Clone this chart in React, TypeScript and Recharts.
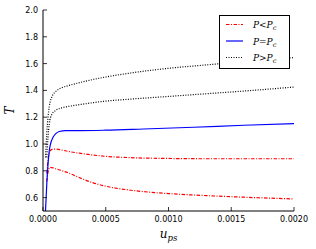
import { Label, Line, LineChart, XAxis, YAxis } from "recharts";

// P < Pc, upper branch
const redA_u = [0.00003, 0.00004, 0.00005, 0.00007, 0.0001, 0.00015, 0.0002, 0.0003, 0.0005, 0.0007, 0.001, 0.0013, 0.0016, 0.002];
const redA_T = [0.78, 0.88, 0.93, 0.96, 0.962, 0.955, 0.945, 0.93, 0.908, 0.898, 0.892, 0.89, 0.89, 0.89];
// P < Pc, lower branch
const redB_u = [0.00003, 0.00004, 0.000055, 0.00008, 0.00012, 0.0002, 0.0003, 0.0004, 0.0005, 0.0007, 0.001, 0.0013, 0.0016, 0.002];
const redB_T = [0.72, 0.79, 0.825, 0.822, 0.81, 0.785, 0.745, 0.71, 0.685, 0.655, 0.63, 0.615, 0.603, 0.59];
// P = Pc
const blue_u = [0.00002, 0.00003, 0.00004, 0.00005, 0.00006, 0.00008, 0.0001, 0.00013, 0.00018, 0.0003, 0.0005, 0.0008, 0.0012, 0.0016, 0.002];
const blue_T = [0.5, 0.7, 0.85, 0.95, 1.0, 1.05, 1.075, 1.093, 1.1, 1.1, 1.103, 1.112, 1.125, 1.14, 1.152];
// P > Pc, upper branch
const blackA_u = [0.00002, 0.00003, 0.00004, 0.00005, 0.00007, 0.0001, 0.00015, 0.0002, 0.0003, 0.0005, 0.0007, 0.001, 0.0013, 0.0016, 0.002];
const blackA_T = [0.9, 1.08, 1.2, 1.28, 1.35, 1.39, 1.42, 1.435, 1.46, 1.5, 1.53, 1.565, 1.59, 1.615, 1.645];
// P > Pc, lower branch
const blackB_u = [0.00003, 0.00004, 0.00005, 0.00007, 0.0001, 0.00015, 0.0002, 0.0003, 0.0005, 0.0007, 0.001, 0.0013, 0.0016, 0.002];
const blackB_T = [0.9, 1.05, 1.15, 1.22, 1.25, 1.27, 1.28, 1.295, 1.32, 1.335, 1.355, 1.375, 1.395, 1.425];

const xTicks = [0, 0.0005, 0.001, 0.0015, 0.002];
const yTicks = [0.6, 0.8, 1.0, 1.2, 1.4, 1.6, 1.8, 2.0];

const toRows = (u: number[], t: number[]) => u.map((x, i) => ({ u: x, T: t[i] }));

const RED = "#ff0000";
const BLUE = "#0000ff";
const DASHDOT = "3.5 1.5 1 1.5";
const DOTTED = "1 1.5";

const tickFont = { fontFamily: "DejaVu Sans", fontSize: 8, fill: "#000" };

const BottomTick = (props: any) => {
  const { x, y, payload } = props;
  return (
    <g>
      <line x1={x} x2={x} y1={y} y2={y - 4} stroke="#000" strokeWidth={0.8} />
      <text x={x} y={y + 11} textAnchor="middle" {...tickFont}>
        {Number(payload.value).toFixed(4)}
      </text>
    </g>
  );
};

const LeftTick = (props: any) => {
  const { x, y, payload } = props;
  return (
    <g>
      <line x1={x} x2={x + 4} y1={y} y2={y} stroke="#000" strokeWidth={0.8} />
      <text x={x - 5} y={y + 3} textAnchor="end" {...tickFont}>
        {Number(payload.value).toFixed(1)}
      </text>
    </g>
  );
};

const TopTick = (props: any) => {
  const { x, y } = props;
  return <line x1={x} x2={x} y1={y} y2={y + 4} stroke="#000" strokeWidth={0.8} />;
};

const RightTick = (props: any) => {
  const { x, y } = props;
  return <line x1={x} x2={x - 4} y1={y} y2={y} stroke="#000" strokeWidth={0.8} />;
};

const legendItems = [
  { color: RED, dash: DASHDOT, rel: "<" },
  { color: BLUE, dash: undefined, rel: "=" },
  { color: "#000", dash: DOTTED, rel: ">" },
];

const LegendBox = () => (
  <svg width={71} height={54} style={{ display: "block" }}>
    <rect x={0.5} y={0.5} width={70} height={53} fill="#fff" stroke="#000" strokeWidth={1} />
    {legendItems.map((it, i) => (
      <g key={i}>
        <line
          x1={7}
          x2={24}
          y1={9.5 + i * 16.5}
          y2={9.5 + i * 16.5}
          stroke={it.color}
          strokeWidth={1.2}
          strokeDasharray={it.dash}
        />
        <text x={34} y={13 + i * 16.5} fontFamily="DejaVu Serif" fontStyle="italic" fontSize={9} fill="#000">
          P{it.rel}P
          <tspan fontSize={6.5} dy={2}>c</tspan>
        </text>
      </g>
    ))}
  </svg>
);

export default function App() {
  return (
    <div style={{ position: "absolute", left: 0, top: 0, width: 316, height: 249, background: "#fff" }}>
      <LineChart width={316} height={249} margin={{ top: 10, right: 22, bottom: 0, left: 0 }}>
        <XAxis
          xAxisId="bottom"
          dataKey="u"
          type="number"
          domain={[0, 0.002]}
          ticks={xTicks}
          allowDataOverflow
          height={38}
          tickSize={0}
          tickMargin={0}
          tickLine={false}
          axisLine={{ stroke: "#000", strokeWidth: 1 }}
          tick={BottomTick}
          interval={0}
        >
          <Label
            content={(p: any) => {
              const vb = p.viewBox;
              return (
                <text x={vb.x + vb.width / 2} y={vb.y + 27} textAnchor="middle" fontFamily="DejaVu Serif" fontStyle="italic" fontSize={12} fill="#000">
                  u<tspan fontSize={8.5} dy={3}>ps</tspan>
                </text>
              );
            }}
          />
        </XAxis>
        <XAxis
          xAxisId="top"
          orientation="top"
          dataKey="u"
          type="number"
          domain={[0, 0.002]}
          ticks={xTicks}
          height={0}
          tickSize={0}
          tickMargin={0}
          tickLine={false}
          axisLine={{ stroke: "#000", strokeWidth: 1 }}
          tick={TopTick}
          interval={0}
        />
        <YAxis
          yAxisId="left"
          type="number"
          domain={[0.5, 2.0]}
          ticks={yTicks}
          allowDataOverflow
          width={43}
          tickSize={0}
          tickMargin={0}
          tickLine={false}
          axisLine={{ stroke: "#000", strokeWidth: 1 }}
          tick={LeftTick}
          interval={0}
        >
          <Label
            content={(p: any) => {
              const vb = p.viewBox;
              const cx = vb.x + 14;
              const cy = vb.y + vb.height / 2;
              return (
                <text x={cx} y={cy} transform={`rotate(-90 ${cx} ${cy})`} textAnchor="middle" fontFamily="DejaVu Serif" fontStyle="italic" fontSize={12} fill="#000">
                  T
                </text>
              );
            }}
          />
        </YAxis>
        <YAxis
          yAxisId="right"
          orientation="right"
          type="number"
          domain={[0.5, 2.0]}
          ticks={yTicks}
          width={0}
          tickSize={0}
          tickMargin={0}
          tickLine={false}
          axisLine={{ stroke: "#000", strokeWidth: 1 }}
          tick={RightTick}
          interval={0}
        />
        <Line xAxisId="bottom" yAxisId="left" data={toRows(redA_u, redA_T)} dataKey="T" type="monotone" stroke={RED} strokeWidth={1.2} strokeDasharray={DASHDOT} dot={false} isAnimationActive={false} />
        <Line xAxisId="bottom" yAxisId="left" data={toRows(redB_u, redB_T)} dataKey="T" type="monotone" stroke={RED} strokeWidth={1.2} strokeDasharray={DASHDOT} dot={false} isAnimationActive={false} />
        <Line xAxisId="bottom" yAxisId="left" data={toRows(blue_u, blue_T)} dataKey="T" type="monotone" stroke={BLUE} strokeWidth={1.2} dot={false} isAnimationActive={false} />
        <Line xAxisId="bottom" yAxisId="left" data={toRows(blackA_u, blackA_T)} dataKey="T" type="monotone" stroke="#000" strokeWidth={1.2} strokeDasharray={DOTTED} dot={false} isAnimationActive={false} />
        <Line xAxisId="bottom" yAxisId="left" data={toRows(blackB_u, blackB_T)} dataKey="T" type="monotone" stroke="#000" strokeWidth={1.2} strokeDasharray={DOTTED} dot={false} isAnimationActive={false} />
      </LineChart>
      <div style={{ position: "absolute", left: 219, top: 15 }}>
        <LegendBox />
      </div>
    </div>
  );
}
